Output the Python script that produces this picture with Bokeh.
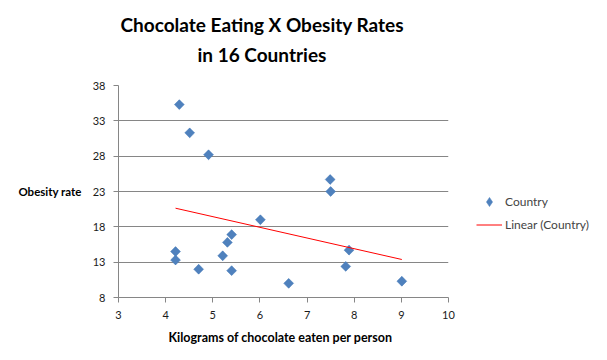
import numpy as np
from bokeh.plotting import figure
from bokeh.models import Legend, LegendItem, FixedTicker, ColumnDataSource, Title
from bokeh.embed import file_html
from bokeh.resources import INLINE

# ---- data ----
chocolate_kg = [4.29, 4.51, 4.91, 7.49, 7.50, 6.01, 5.40, 5.31, 4.21, 4.21,
                5.21, 4.70, 5.40, 7.89, 7.82, 6.61, 9.01]
obesity_rate = [35.3, 31.3, 28.2, 24.7, 23.0, 19.0, 16.9, 15.8, 14.5, 13.3,
                13.9, 12.0, 11.8, 14.7, 12.4, 10.0, 10.3]
x_ticks = [3, 4, 5, 6, 7, 8, 9, 10]
y_ticks = [8, 13, 18, 23, 28, 33, 38]

title_lines = ["Chocolate Eating X Obesity Rates", "in 16 Countries"]
x_title = "Kilograms  of chocolate  eaten per person"
y_title = "Obesity rate"
legend_labels = ["Country", "Linear (Country)"]

# linear trendline (least squares) over the data range
slope, intercept = np.polyfit(chocolate_kg, obesity_rate, 1)
trend_x = [min(chocolate_kg), max(chocolate_kg)]
trend_y = [slope * v + intercept for v in trend_x]

FONT = "Lato"
BLUE = "#4F81BD"

p = figure(output_backend="svg", toolbar_location=None,
           frame_width=330, frame_height=212,
           x_range=(x_ticks[0], x_ticks[-1]), y_range=(y_ticks[0], y_ticks[-1]),
           min_border_left=118, min_border_right=143,
           min_border_top=85, min_border_bottom=47)
p.outline_line_color = None
p.background_fill_color = "white"
p.border_fill_color = "white"

src = ColumnDataSource(dict(x=chocolate_kg, y=obesity_rate))
# diamond markers (used for the legend swatch), covered by the rotated squares
swatch = p.scatter("x", "y", source=src, marker="diamond", size=9,
                   fill_color=BLUE, line_color="#4A7EBB", line_width=0.5)
pts = p.scatter("x", "y", source=src, marker="square", size=7, angle=np.pi / 4,
                fill_color=BLUE, line_color="#4A7EBB", line_width=0.5)
trend = p.line(trend_x, trend_y, line_color="#FF0000", line_width=1)

for ax in (p.xaxis[0], p.yaxis[0]):
    ax.axis_line_color = "#868686"
    ax.major_tick_line_color = "#868686"
    ax.major_tick_out = 5
    ax.major_tick_in = 0
    ax.minor_tick_line_color = None
    ax.major_label_text_font = FONT
    ax.major_label_text_font_size = "11px"
    ax.major_label_text_color = "#1a1a1a"
    ax.axis_label_text_font = FONT
    ax.axis_label_text_font_style = "bold"
    ax.axis_label_text_color = "black"
p.xaxis.ticker = FixedTicker(ticks=x_ticks)
p.yaxis.ticker = FixedTicker(ticks=y_ticks)
p.xaxis.major_label_standoff = 8
p.yaxis.major_label_standoff = 8
p.xaxis.axis_label = x_title
p.yaxis.axis_label = y_title
p.xaxis.axis_label_text_font_size = "12.5px"
p.yaxis.axis_label_text_font_size = "11.5px"
p.yaxis.axis_label_orientation = "horizontal"
p.yaxis.axis_label_standoff = 8
p.xaxis.axis_label_standoff = 8

p.xgrid.grid_line_color = None
p.ygrid.ticker = FixedTicker(ticks=y_ticks)
p.ygrid.grid_line_color = "#868686"
p.ygrid.grid_line_width = 1

# spacer between plot area and the two-line title
p.add_layout(Title(text=" ", text_font_size="10px", standoff=2), "above")
# title: second line added first (closer to plot), then first line above it
p.add_layout(Title(text=title_lines[1], align="left", offset=79, text_font=FONT,
                   text_font_style="bold", text_font_size="19px",
                   text_color="black", standoff=10), "above")
p.add_layout(Title(text=title_lines[0], align="left", offset=2, text_font=FONT,
                   text_font_style="bold", text_font_size="19px",
                   text_color="black", standoff=0), "above")

legend = Legend(items=[LegendItem(label=legend_labels[0], renderers=[swatch]),
                       LegendItem(label=legend_labels[1], renderers=[trend])],
                location=(28, 61), padding=0, margin=0, spacing=0,
                glyph_width=26, glyph_height=23, label_height=23, label_standoff=3,
                label_text_font=FONT, label_text_font_size="12px",
                border_line_color=None, background_fill_alpha=0)
p.add_layout(legend, "right")

open("out.html", "w").write(file_html(p, INLINE))
